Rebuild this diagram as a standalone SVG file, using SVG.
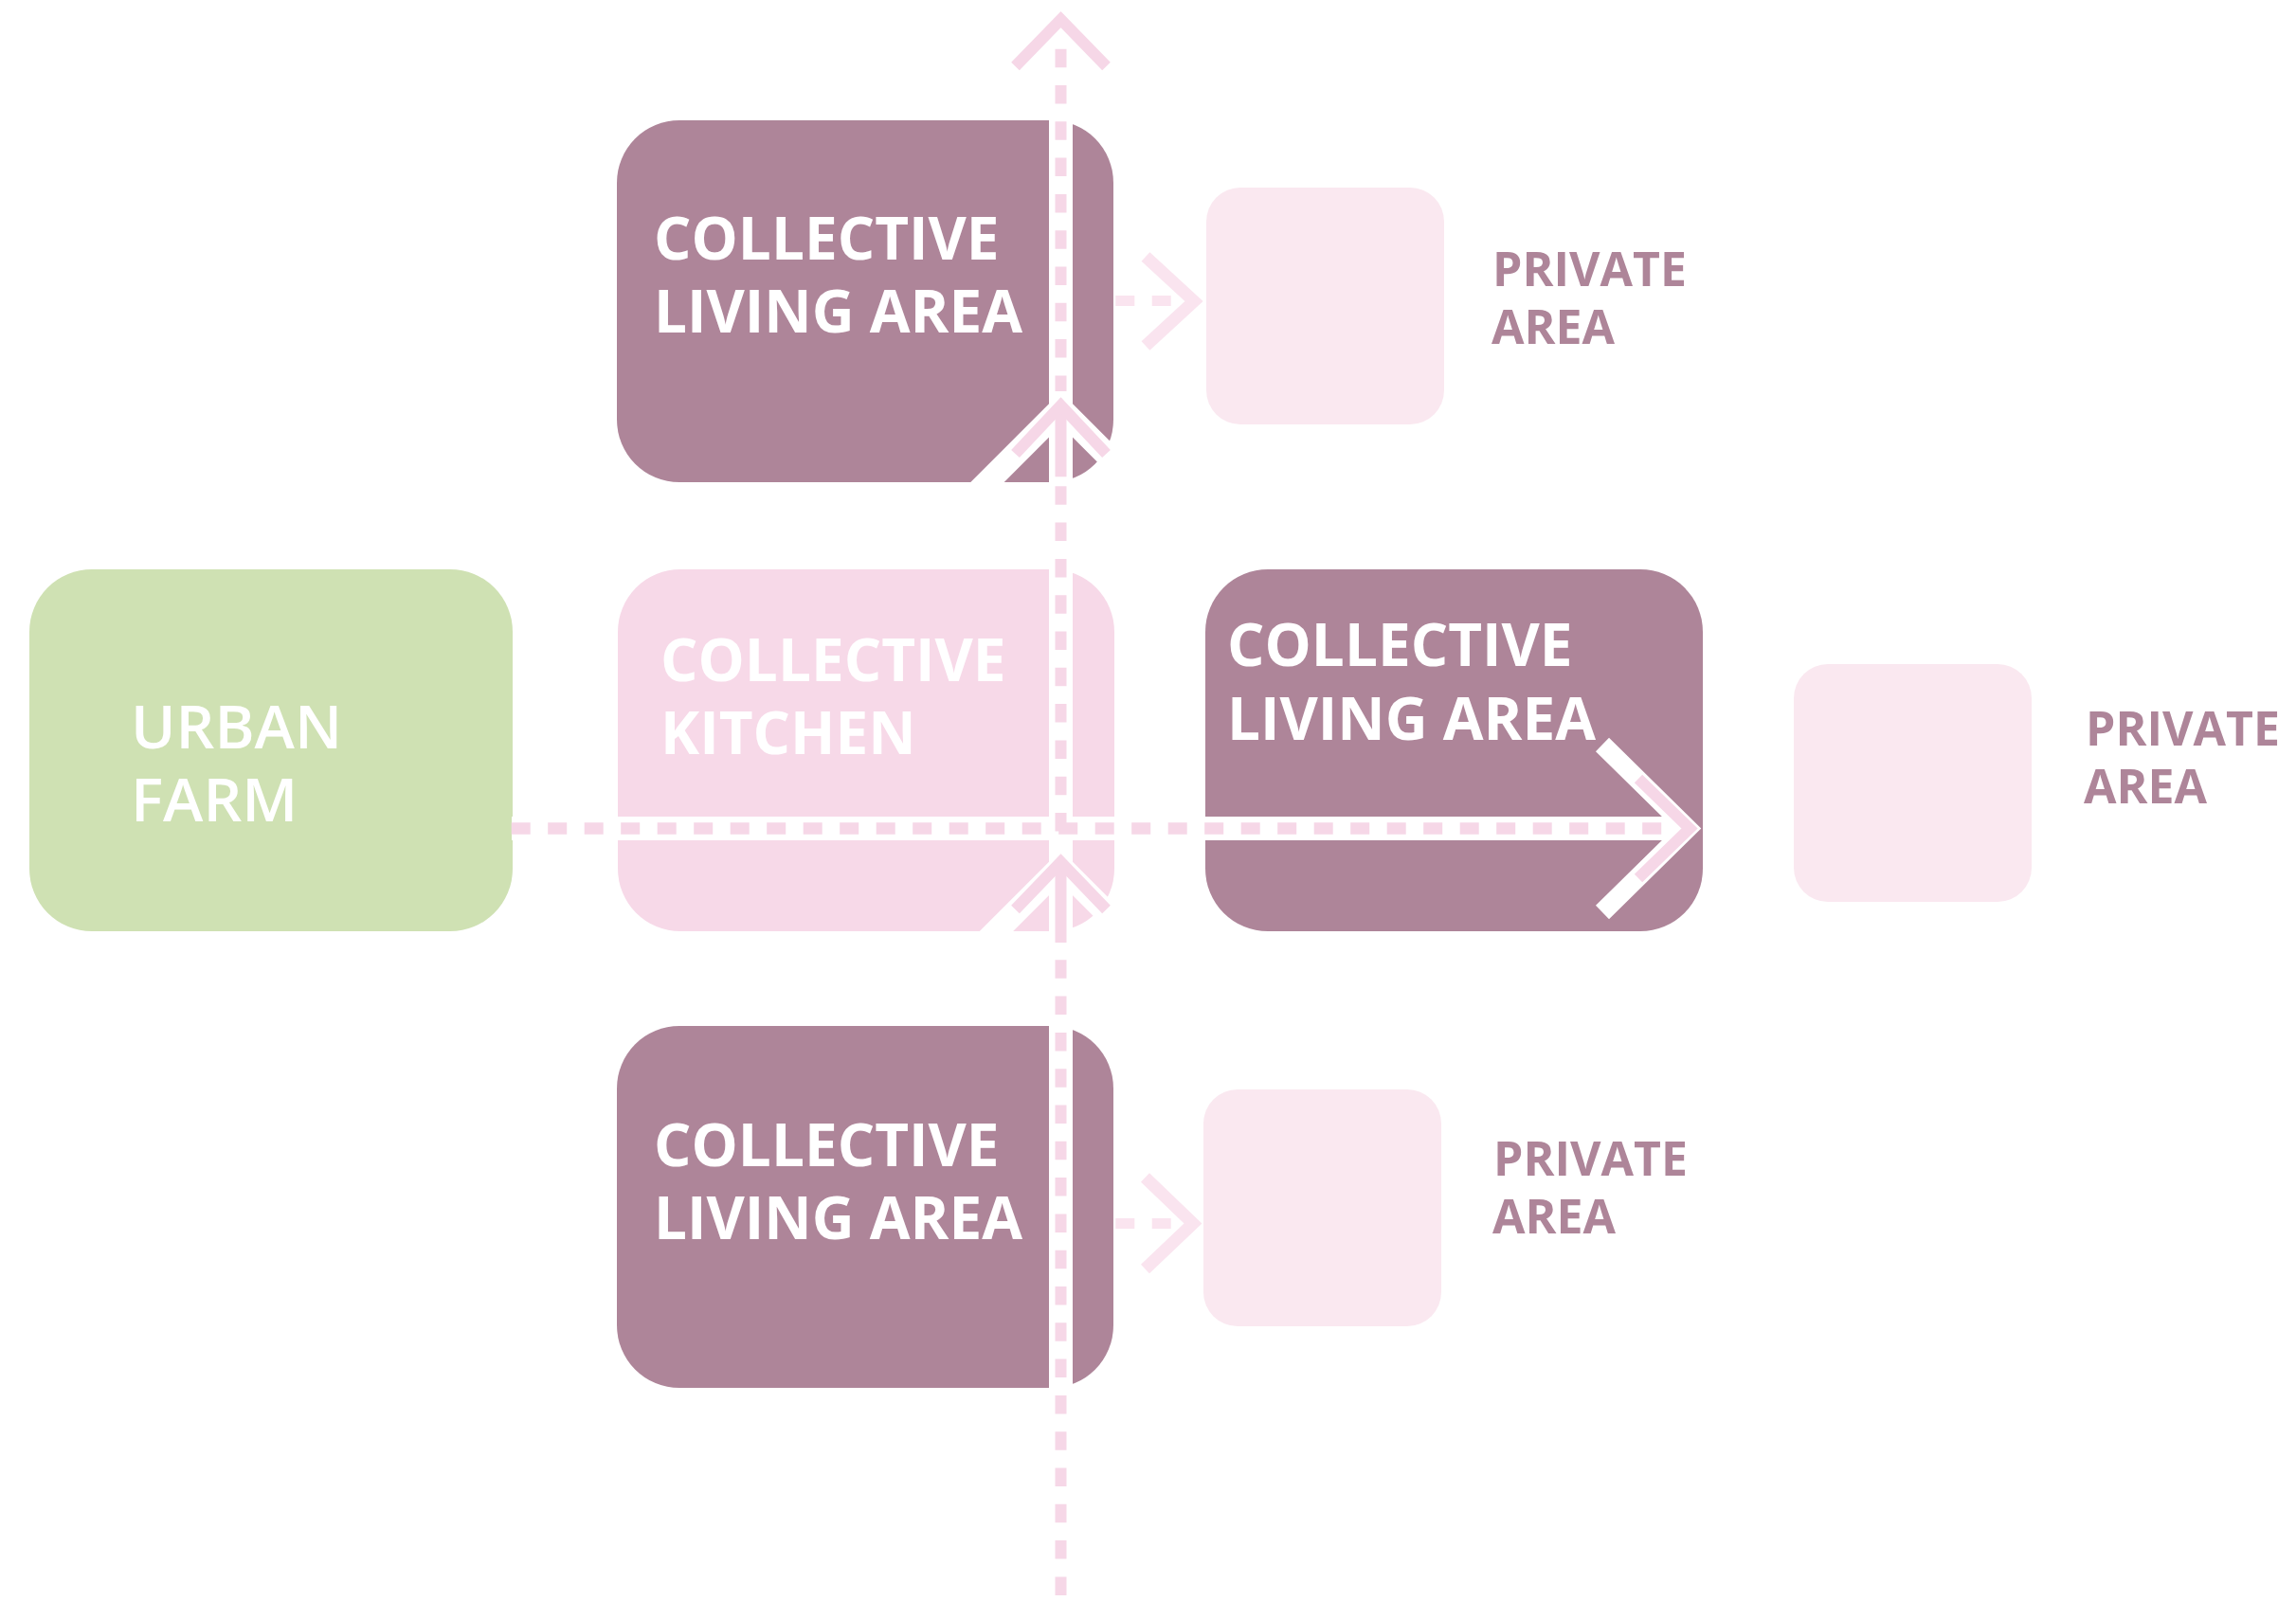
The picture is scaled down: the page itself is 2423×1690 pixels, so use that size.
<svg xmlns="http://www.w3.org/2000/svg" width="2423" height="1690" viewBox="0 0 2423 1690">
<style>
.dark{fill:#ae8599}
.kit{fill:#f7d9e8}
.farm{fill:#cfe1b3}
.priv{fill:#fae8f0}
.lbl{font-family:"Open Sans","Liberation Sans",sans-serif;font-weight:700;font-size:62px;fill:#ffffff}
.farmlbl{font-family:"Open Sans","Liberation Sans",sans-serif;font-weight:600;font-size:64px;fill:#ffffff}
.plbl{font-family:"Open Sans","Liberation Sans",sans-serif;font-weight:700;font-size:50px;fill:#ae8599}
.wband{fill:none;stroke:#ffffff;stroke-width:25}
.wchev{fill:none;stroke:#ffffff;stroke-width:25;stroke-linejoin:miter;stroke-miterlimit:10}
.pdash{fill:none;stroke:#f6d7e7;stroke-width:12;stroke-dasharray:19.5 18.8}
.pdashh{fill:none;stroke:#f6d7e7;stroke-width:12.5;stroke-dasharray:20 18.5}
.psolid{fill:none;stroke:#f6d7e7;stroke-width:12}
.pchev{fill:none;stroke:#f6d7e7;stroke-width:12;stroke-linejoin:miter;stroke-miterlimit:10}
.lchev{fill:none;stroke:#fae4ef;stroke-width:13;stroke-linejoin:miter;stroke-miterlimit:10}
.ldash{fill:none;stroke:#fae4ef;stroke-width:11;stroke-dasharray:20 18.4}
</style>

<g id="urban-farm">
<rect class="farm" x="31" y="601" width="510" height="382" rx="66" ry="66"/>
<text class="farmlbl" x="138" y="790">URBAN</text>
<text class="farmlbl" x="138" y="867">FARM</text>
</g>

<g id="collective-kitchen">
<rect class="kit" x="652" y="601" width="524" height="382" rx="66" ry="66"/>
<text class="lbl" x="697" y="719">COLLECTIVE</text>
<text class="lbl" x="697" y="796">KITCHEN</text>
</g>

<g id="living-area-top">
<rect class="dark" x="651" y="127" width="524" height="382" rx="66" ry="66"/>
<text class="lbl" x="690" y="274">COLLECTIVE</text>
<text class="lbl" x="690" y="351">LIVING AREA</text>
</g>

<g id="living-area-right">
<rect class="dark" x="1272" y="601" width="525" height="382" rx="66" ry="66"/>
<text class="lbl" x="1295" y="703">COLLECTIVE</text>
<text class="lbl" x="1295" y="781">LIVING AREA</text>
</g>

<g id="living-area-bottom">
<rect class="dark" x="651" y="1083" width="524" height="382" rx="66" ry="66"/>
<text class="lbl" x="690" y="1231">COLLECTIVE</text>
<text class="lbl" x="690" y="1308">LIVING AREA</text>
</g>

<g id="private-top">
<rect class="priv" x="1273" y="198" width="251" height="250" rx="36" ry="36"/>
<text class="plbl" x="1575" y="302">PRIVATE</text>
<text class="plbl" x="1574" y="363">AREA</text>
</g>

<g id="private-right">
<rect class="priv" x="1893" y="701" width="251" height="251" rx="36" ry="36"/>
<text class="plbl" x="2201" y="787">PRIVATE</text>
<text class="plbl" x="2199" y="848">AREA</text>
</g>

<g id="private-bottom">
<rect class="priv" x="1270" y="1150" width="251" height="250" rx="36" ry="36"/>
<text class="plbl" x="1576" y="1241">PRIVATE</text>
<text class="plbl" x="1575" y="1302">AREA</text>
</g>

<g id="connectors">
<path class="wband" d="M1119.5,127 V1465"/>
<path class="wband" d="M540,874.5 H1772"/>
<path class="wchev" d="M1019.5,531.5 L1119.5,431.5 L1219.5,531.5"/>
<path class="wchev" d="M1019.5,1015 L1119.5,915 L1219.5,1015"/>
<path class="wchev" style="stroke-width:20" d="M1691,786 L1781,874.5 L1691,963"/>
<path class="pdash" d="M1119.5,51.7 V413"/>
<path class="psolid" d="M1119.5,428 V503.3"/>
<path class="pdash" d="M1119.5,513.3 V880"/>
<path class="psolid" d="M1119.5,910 V995"/>
<path class="pdash" d="M1119.5,1013.3 V1690"/>
<path class="pchev" d="M1071.5,70 L1119.5,20.5 L1167.5,70"/>
<path class="pchev" d="M1071.5,479 L1119.5,428 L1167.5,479"/>
<path class="pchev" d="M1071.5,960 L1119.5,910 L1167.5,960"/>
<path class="pdashh" d="M539.7,874.5 H1755"/>
<path class="pchev" d="M1729,822 L1783,874.5 L1729,927"/>
<path class="ldash" d="M1177.3,317.5 H1236"/>
<path class="lchev" d="M1209,271 L1260,318 L1209,365"/>
<path class="ldash" d="M1177.3,1291.5 H1236"/>
<path class="lchev" d="M1208.5,1243 L1259,1291.5 L1208.5,1339.5"/>
</g>
</svg>
